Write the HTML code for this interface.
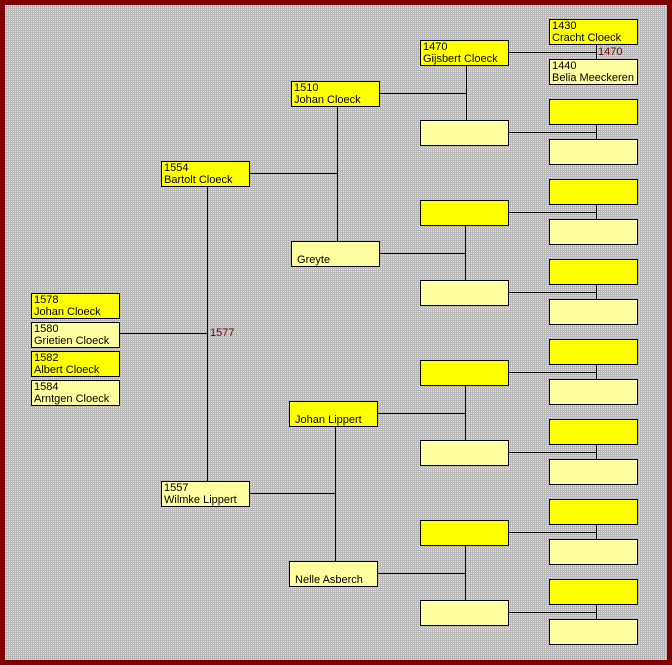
<!DOCTYPE html>
<html><head><meta charset="utf-8"><style>
body{margin:0;width:672px;height:665px;overflow:hidden;background:#800000;font-family:"Liberation Sans",sans-serif;}
#c{position:absolute;left:5px;top:5px;width:662px;height:655px;background-color:#b8b8b8;
background-image:radial-gradient(circle at 0.5px 0.5px,rgba(255,255,255,.6) 0.6px,transparent 0.7px);background-size:2px 2px;}
.b{position:absolute;width:87px;height:24px;border:1px solid #000;font-size:11px;line-height:12px;padding:0;box-sizing:content-box;}
.b div{padding-left:2px;height:12px;white-space:nowrap}
.y{background:#ffff00}.p{background:#ffffa0}
.h,.v{position:absolute;background:#000}
.h{height:1px}.v{width:1px}
.l{position:absolute;color:#800000;font-size:11px;line-height:12px}
</style></head><body>
<div id="c"></div>
<div id="a">
<div class="h" style="left:119px;top:333px;width:88px"></div>
<div class="v" style="left:207px;top:186px;height:295px"></div>
<div class="h" style="left:249px;top:173px;width:88px"></div>
<div class="v" style="left:337px;top:106px;height:135px"></div>
<div class="h" style="left:249px;top:493px;width:86px"></div>
<div class="v" style="left:335px;top:426px;height:135px"></div>
<div class="h" style="left:379px;top:93px;width:87px"></div>
<div class="v" style="left:466px;top:65px;height:55px"></div>
<div class="h" style="left:379px;top:253px;width:86px"></div>
<div class="v" style="left:465px;top:225px;height:55px"></div>
<div class="h" style="left:377px;top:413px;width:88px"></div>
<div class="v" style="left:465px;top:385px;height:55px"></div>
<div class="h" style="left:377px;top:573px;width:88px"></div>
<div class="v" style="left:465px;top:545px;height:55px"></div>
</div>
<div id="L5"></div>
<div class="l" style="left:210px;top:327px">1577</div>
<div class="l" style="left:598px;top:46px">1470</div>

<div class="b y" style="left:31px;top:293px"><div>1578</div><div>Johan Cloeck</div></div>
<div class="b p" style="left:31px;top:322px"><div>1580</div><div>Grietien Cloeck</div></div>
<div class="b y" style="left:31px;top:351px"><div>1582</div><div>Albert Cloeck</div></div>
<div class="b p" style="left:31px;top:380px"><div>1584</div><div>Arntgen Cloeck</div></div>
<div class="b y" style="left:161px;top:161px"><div>1554</div><div>Bartolt Cloeck</div></div>
<div class="b p" style="left:161px;top:481px"><div>1557</div><div>Wilmke Lippert</div></div>
<div class="b y" style="left:291px;top:81px"><div>1510</div><div>Johan Cloeck</div></div>
<div class="b p" style="left:291px;top:241px"><div></div><div>&nbsp;Greyte</div></div>
<div class="b y" style="left:289px;top:401px"><div></div><div>&nbsp;Johan Lippert</div></div>
<div class="b p" style="left:289px;top:561px"><div></div><div>&nbsp;Nelle Asberch</div></div>
<div class="b y" style="left:420px;top:40px"><div>1470</div><div>Gijsbert Cloeck</div></div>
<div class="b y" style="left:549px;top:19px"><div>1430</div><div>Cracht Cloeck</div></div>
<div class="b p" style="left:549px;top:59px"><div>1440</div><div>Belia Meeckeren</div></div>
<script>
var s='';
for(var k=1;k<8;k++){
 var y4=40+80*k;
 s+='<div class="b '+(k%2?'p':'y')+'" style="left:420px;top:'+y4+'px"></div>';
}
for(var j=0;j<8;j++){
 var yt=19+80*j, yb=59+80*j, y4=40+80*j;
 if(j>0){s+='<div class="b y" style="left:549px;top:'+yt+'px"></div><div class="b p" style="left:549px;top:'+yb+'px"></div>';}
 s+='<div class="v" style="left:596px;top:'+(yt+25)+'px;height:15px"></div>';
 s+='<div class="h" style="left:508px;top:'+(y4+12)+'px;width:88px"></div>';
}
document.getElementById('L5').innerHTML=s;
</script>
</body></html>
